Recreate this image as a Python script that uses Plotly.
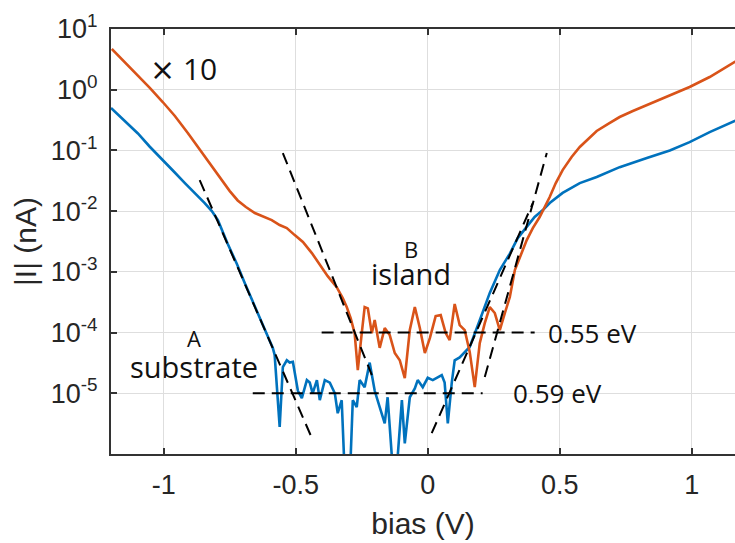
import math
import plotly.graph_objects as go

# Tunnelling current vs bias: substrate (A) and island (B, shown x10)
bias_substrate = [
    -1.2, -1.148, -1.098, -1.053, -1.004, -0.962, -0.920, -0.883, -0.845, -0.818,
    -0.795, -0.758, -0.723, -0.693, -0.663, -0.625, -0.587, -0.580,
    -0.561, -0.549, -0.534, -0.523, -0.511, -0.492, -0.477, -0.458, -0.447, -0.436,
    -0.420, -0.409, -0.390, -0.371, -0.352, -0.341, -0.326, -0.314, -0.295, -0.284,
    -0.269, -0.258, -0.239, -0.220, -0.201, -0.182, -0.163, -0.152, -0.133, -0.117,
    -0.098, -0.087, -0.068, -0.049, -0.038, -0.019, 0.000, 0.019, 0.038, 0.053,
    0.064, 0.076, 0.091, 0.102, 0.121, 0.140, 0.159, 0.197, 0.235, 0.273,
    0.311, 0.341, 0.375, 0.405, 0.436, 0.462, 0.511, 0.576, 0.640, 0.727,
    0.830, 0.917, 0.992, 1.068, 1.163, 1.2,
]
current_substrate = [
    0.50, 0.31, 0.19, 0.115, 0.068, 0.045, 0.029, 0.020, 0.0136, 0.010,
    0.0071, 2.9e-3, 1.35e-3, 6.5e-4, 3.3e-4, 1.33e-4, 5.6e-5, 4.3e-5,
    2.8e-6, 2.7e-5, 3.5e-5, 3.2e-5, 3.3e-5, 1.1e-5, 8.3e-6, 1.65e-5, 1.5e-5, 1.0e-5,
    1.65e-5, 7.7e-6, 1.65e-5, 1.5e-5, 1.0e-5, 4.7e-6, 7.7e-6, 4e-7, 4e-7, 7.7e-6,
    5.9e-6, 1.65e-5, 1.26e-5, 3.2e-5, 1.1e-5, 5.9e-6, 3.2e-6, 8.6e-6, 6e-7, 6e-7,
    7.7e-6, 1.5e-6, 8.6e-6, 1.2e-5, 1.65e-5, 1.26e-5, 1.8e-5, 1.65e-5, 1.85e-5, 2.0e-5,
    1.5e-5, 3.2e-6, 1.5e-5, 3.5e-5, 3.9e-5, 4.8e-5, 5.8e-5, 1.6e-4, 4.5e-4, 1.07e-3,
    2.0e-3, 3.6e-3, 5.5e-3, 8.0e-3, 0.0104, 0.0136, 0.020, 0.029, 0.0365, 0.053,
    0.075, 0.10, 0.137, 0.20, 0.305, 0.355,
]

bias_island = [
    -1.197, -1.148, -1.098, -1.053, -1.004, -0.958, -0.909, -0.856, -0.818,
    -0.780, -0.750, -0.720, -0.689, -0.655, -0.625, -0.591, -0.561, -0.534, -0.504,
    -0.473, -0.439, -0.409, -0.379, -0.345, -0.322, -0.307, -0.292, -0.277, -0.265,
    -0.250, -0.239, -0.227, -0.212, -0.201, -0.182, -0.163, -0.144, -0.125, -0.106,
    -0.087, -0.068, -0.049, -0.030, -0.011, 0.008, 0.030, 0.049, 0.068, 0.083,
    0.102, 0.121, 0.140, 0.159, 0.178, 0.197, 0.216, 0.235, 0.254, 0.273,
    0.292, 0.311, 0.330, 0.352, 0.375, 0.398, 0.424, 0.462, 0.485, 0.511, 0.545,
    0.576, 0.606, 0.640, 0.682, 0.727, 0.777, 0.830, 0.917, 0.992, 1.068, 1.163, 1.2,
]
current_island = [
    0.469, 0.286, 0.175, 0.107, 0.0627, 0.0369, 0.0194, 9.4e-3, 5.33e-3,
    3.25e-3, 2.14e-3, 1.50e-3, 1.17e-3, 9.3e-4, 8.3e-4, 7.13e-4, 5.9e-4, 5.26e-4, 4.03e-4,
    3.1e-4, 2.04e-4, 1.29e-4, 8.5e-5, 5.6e-5, 3.7e-5, 2.63e-5, 1.73e-5, 9.8e-6, 2.4e-6,
    9.8e-6, 2.63e-5, 2.5e-5, 9.8e-6, 1.61e-5, 5.6e-6, 1.19e-5, 9.1e-6, 4.6e-6, 3.5e-6,
    1.78e-6, 1.1e-5, 2.63e-5, 1.19e-5, 4.6e-6, 8.1e-6, 1.87e-5, 1.94e-5, 9.8e-6, 7.5e-6,
    2.95e-5, 1.33e-5, 1.1e-5, 4.8e-6, 1.26e-6, 6.7e-6, 1.43e-5, 2.63e-5, 2.1e-5, 1.1e-5,
    2.1e-5, 3.85e-5, 1.07e-4, 1.9e-4, 3.34e-4, 5.26e-4, 8.0e-4, 1.71e-3, 2.9e-3, 4.75e-3, 7.8e-3,
    0.0114, 0.0154, 0.0209, 0.0272, 0.0355, 0.0446, 0.056, 0.082, 0.111, 0.162, 0.286, 0.359,
]
island_scale = 10

# Exponential-edge fits (pairs of end points) and the noise-floor levels
fit_bias = [[-0.864, -0.439], [-0.549, -0.212], [0.015, 0.398], [0.216, 0.451]]
fit_current = [[0.0325, 1.83e-6], [0.0906, 2.0e-5], [2.2e-6, 0.0136], [1.85e-5, 0.0906]]
floor_bias = [[-0.402, 0.405], [-0.663, 0.208]]
floor_current = [1e-4, 1e-5]
gap_labels = ["0.55 eV", "0.59 eV"]
gap_label_x = [0.625, 0.490]

x_ticks = [-1, -0.5, 0, 0.5, 1]
x_ticktext = ["-1", "-0.5", "0", "0.5", "1"]
y_exponents = [-5, -4, -3, -2, -1, 0, 1]

BLUE = "#0072BD"
ORANGE = "#D95319"
TEXT = "#262626"
AXIS_FONT = "Liberation Sans, Arial, sans-serif"
NOTE_FONT = "Open Sans, Noto Sans, sans-serif"

fig = go.Figure()

fig.add_trace(go.Scatter(
    x=bias_substrate, y=current_substrate, mode="lines",
    line=dict(color=BLUE, width=2.6), showlegend=False,
))
fig.add_trace(go.Scatter(
    x=bias_island, y=[v * island_scale for v in current_island], mode="lines",
    line=dict(color=ORANGE, width=2.6), showlegend=False,
))

dash_style = dict(color="black", width=2, dash="12px,7px")
for xs, ys in zip(fit_bias, fit_current):
    fig.add_trace(go.Scatter(x=xs, y=ys, mode="lines", line=dash_style,
                             showlegend=False, hoverinfo="skip"))
for xs, level in zip(floor_bias, floor_current):
    fig.add_trace(go.Scatter(x=xs, y=[level, level], mode="lines", line=dash_style,
                             showlegend=False, hoverinfo="skip"))

# Text labels (y given as log10 of the current on the log axis)
fig.add_annotation(x=-0.924, y=0.357, showarrow=False,
                   text="<span style='font-family:DejaVu Sans'>×</span> 10",
                   font=dict(family=NOTE_FONT, size=30, color="#111111"))
fig.add_annotation(x=-0.885, y=-4.354, showarrow=False,
                   text="<span style='font-size:22px'>A</span><br>"
                        "<span style='font-size:29px'>substrate</span>",
                   font=dict(family=NOTE_FONT, size=24, color="#111111"))
fig.add_annotation(x=-0.062, y=-2.863, showarrow=False,
                   text="<span style='font-size:22px'>B</span><br>"
                        "<span style='font-size:29px'>island</span>",
                   font=dict(family=NOTE_FONT, size=21, color="#111111"))
for text, x, level in zip(gap_labels, gap_label_x, floor_current):
    fig.add_annotation(x=x, y=math.log10(level), text=text, showarrow=False,
                       font=dict(family=NOTE_FONT, size=26, color="#111111"),
                       xanchor="center", yanchor="middle")

fig.update_layout(
    width=735, height=543,
    margin=dict(l=111, r=0, t=29, b=89),
    paper_bgcolor="white", plot_bgcolor="white",
    font=dict(family=AXIS_FONT, color=TEXT),
)
fig.update_xaxes(
    range=[-1.2, 1.164], tickvals=x_ticks, ticktext=x_ticktext,
    showgrid=True, gridcolor="#dedede", gridwidth=1, zeroline=False,
    showline=True, linecolor="#333333", linewidth=2, mirror="ticks",
    ticks="inside", ticklen=6, tickwidth=1.5, tickcolor="#333333",
    ticklabelstandoff=6,
    tickfont=dict(size=27, family=AXIS_FONT, color=TEXT),
    title=dict(text="bias (V)", font=dict(size=30, family=AXIS_FONT, color=TEXT), standoff=14),
)
fig.update_yaxes(
    type="log", range=[-6, 1],
    tickvals=[10 ** e for e in y_exponents],
    ticktext=[f"10<sup>{e}</sup>" for e in y_exponents],
    showgrid=True, gridcolor="#dedede", gridwidth=1, zeroline=False,
    showline=True, linecolor="#333333", linewidth=2, mirror=False,
    ticks="inside", ticklen=6, tickwidth=1.5, tickcolor="#333333",
    ticklabelstandoff=6,
    tickfont=dict(size=27, family=AXIS_FONT, color=TEXT),
    title=dict(text="|I| (nA)", font=dict(size=30, family=AXIS_FONT, color=TEXT), standoff=5),
)

fig.write_html("out.html")
